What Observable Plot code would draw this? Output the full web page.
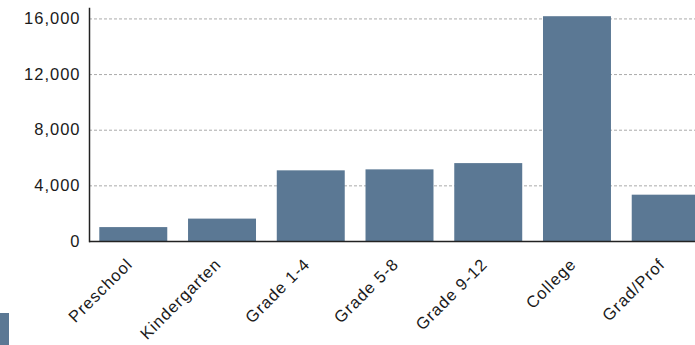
<!DOCTYPE html>
<html>
<head>
<meta charset="utf-8">
<script src="https://cdn.jsdelivr.net/npm/d3@7"></script>
<script src="https://cdn.jsdelivr.net/npm/@observablehq/plot@0.6"></script>
<style>
  html, body { margin: 0; padding: 0; background: #fff; overflow: hidden; width: 695px; height: 345px; }
  #chart { position: absolute; left: 0; top: 0; }
  #chart svg { max-width: none !important; }
  #legend { position: absolute; left: 0; top: 313px; width: 9px; height: 40px; background: #5b7894; }
</style>
</head>
<body>
<div id="chart"></div>
<div id="legend"></div>
<script>
const categories = ["Preschool", "Kindergarten", "Grade 1-4", "Grade 5-8", "Grade 9-12", "College", "Grad/Prof"];
const values = [1000, 1610, 5080, 5150, 5600, 16160, 3330];
const yTicks = [0, 4000, 8000, 12000, 16000];

const data = categories.map((c, i) => ({category: c, value: values[i]}));
const fmt = d3.format(",");

const chart = Plot.plot({
  width: 710,
  height: 345,
  marginLeft: 89,
  marginRight: 0,
  marginTop: 8,
  marginBottom: 104,
  style: {fontSize: "16.5px", color: "#1a1a1a", fontFamily: "'Liberation Sans', Arial, sans-serif", letterSpacing: "1px", overflow: "visible"},
  x: {domain: categories, paddingInner: 0.234, paddingOuter: 0.116, round: false, label: null},
  y: {domain: [0, 16750], label: null},
  marks: [
    Plot.gridY(yTicks, {stroke: "#aaa", strokeOpacity: 1, strokeDasharray: "3,2"}),
    Plot.barY(data, {x: "category", y: "value", fill: "#5b7894"}),
    Plot.axisY({ticks: yTicks, tickSize: 0, tickPadding: 9, tickFormat: fmt, label: null}),
    Plot.axisX({tickSize: 0, tickRotate: -45, tickPadding: 20, dx: -4, label: null}),
    Plot.frame({anchor: "left", stroke: "#222", strokeWidth: 1.5}),
    Plot.ruleY([0], {stroke: "#222", strokeWidth: 1.5})
  ]
});
document.getElementById("chart").appendChild(chart);
</script>
</body>
</html>
